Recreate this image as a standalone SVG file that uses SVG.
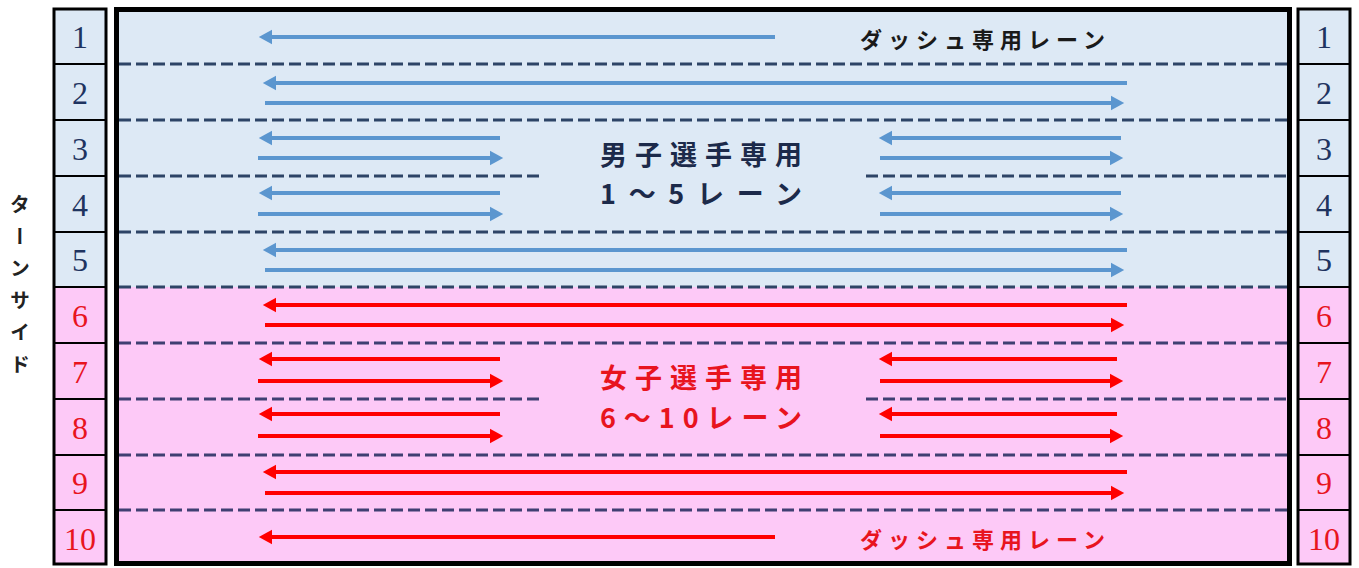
<svg xmlns="http://www.w3.org/2000/svg" width="1359" height="568" viewBox="0 0 1359 568">
<defs>
<style>
.num{font-family:"Liberation Serif",serif;font-size:32px;text-anchor:middle}
.nb{fill:#1f3460}
.nr{fill:#e8141e}
.cell{stroke:#000;stroke-width:2}
.dash{stroke:#2d4466;stroke-width:3;stroke-dasharray:12 5;fill:none}
.dashp{stroke:#3f3f72;stroke-width:3;stroke-dasharray:12 5;fill:none}
.ab{stroke:#5b96cf;stroke-width:4;fill:none}
.ar{stroke:#f00;stroke-width:4;fill:none}
.jp{font-family:"Noto Sans CJK JP","Noto Sans",sans-serif;font-weight:bold}
</style>
<marker id="hb" markerWidth="4" markerHeight="4" refX="1" refY="2" orient="auto-start-reverse" markerUnits="strokeWidth" viewBox="0 0 4 4"><path d="M0,0.2 L3.3,2 L0,3.8 Z" fill="#5b96cf"/></marker>
<marker id="hr" markerWidth="4" markerHeight="4" refX="1" refY="2" orient="auto-start-reverse" markerUnits="strokeWidth" viewBox="0 0 4 4"><path d="M0,0.2 L3.3,2 L0,3.8 Z" fill="#f00"/></marker>
</defs>
<rect width="1359" height="568" fill="#fff"/>

<g id="pool">
<rect x="117" y="10" width="1172" height="277" fill="#dde9f5"/>
<rect x="117" y="287" width="1172" height="277" fill="#fdc9f7"/>
<rect x="116.5" y="9.5" width="1173" height="554" fill="none" stroke="#000" stroke-width="5"/>
</g>

<g id="dividers">
<line class="dash" x1="119" y1="64" x2="1287" y2="64"/>
<line class="dash" x1="119" y1="120" x2="1287" y2="120"/>
<line class="dash" x1="119" y1="176" x2="541" y2="176"/>
<line class="dash" x1="866" y1="176" x2="1287" y2="176"/>
<line class="dash" x1="119" y1="232" x2="1287" y2="232"/>
<line class="dash" x1="119" y1="287" x2="1287" y2="287"/>
<line class="dashp" x1="119" y1="343" x2="1287" y2="343"/>
<line class="dashp" x1="119" y1="399" x2="541" y2="399"/>
<line class="dashp" x1="866" y1="399" x2="1287" y2="399"/>
<line class="dashp" x1="119" y1="455" x2="1287" y2="455"/>
<line class="dashp" x1="119" y1="510" x2="1287" y2="510"/>
</g>

<g id="left-col">
<rect x="54" y="9" width="52" height="278" fill="#dde9f5"/>
<rect x="54" y="287" width="52" height="277" fill="#fdc9f7"/>
<rect x="54" y="9" width="52" height="555" fill="none" stroke="#000" stroke-width="3"/>
<path class="cell" d="M54,64H106M54,120H106M54,176H106M54,232H106M54,287H106M54,343H106M54,399H106M54,455H106M54,510H106"/>
<text class="num nb" x="80" y="48">1</text>
<text class="num nb" x="80" y="104">2</text>
<text class="num nb" x="80" y="160">3</text>
<text class="num nb" x="80" y="216">4</text>
<text class="num nb" x="80" y="271">5</text>
<text class="num nr" x="80" y="327">6</text>
<text class="num nr" x="80" y="383">7</text>
<text class="num nr" x="80" y="439">8</text>
<text class="num nr" x="80" y="494">9</text>
<text class="num nr" x="80" y="550">10</text>
</g>

<g id="right-col">
<rect x="1298" y="9" width="52" height="278" fill="#dde9f5"/>
<rect x="1298" y="287" width="52" height="277" fill="#fdc9f7"/>
<rect x="1298" y="9" width="52" height="555" fill="none" stroke="#000" stroke-width="3"/>
<path class="cell" d="M1298,64H1350M1298,120H1350M1298,176H1350M1298,232H1350M1298,287H1350M1298,343H1350M1298,399H1350M1298,455H1350M1298,510H1350"/>
<text class="num nb" x="1324" y="48">1</text>
<text class="num nb" x="1324" y="104">2</text>
<text class="num nb" x="1324" y="160">3</text>
<text class="num nb" x="1324" y="216">4</text>
<text class="num nb" x="1324" y="271">5</text>
<text class="num nr" x="1324" y="327">6</text>
<text class="num nr" x="1324" y="383">7</text>
<text class="num nr" x="1324" y="439">8</text>
<text class="num nr" x="1324" y="494">9</text>
<text class="num nr" x="1324" y="550">10</text>
</g>

<g id="turn-side">
<text class="jp" x="20" y="194" font-size="20" fill="#222" style="writing-mode:vertical-rl;letter-spacing:12px">ターンサイド</text>
</g>

<g id="connectors">
<line class="ab" x1="775" y1="37" x2="268" y2="37" marker-end="url(#hb)"/>
<line class="ab" x1="1127" y1="83" x2="272" y2="83" marker-end="url(#hb)"/>
<line class="ab" x1="265" y1="103" x2="1115" y2="103" marker-end="url(#hb)"/>
<line class="ab" x1="500" y1="138" x2="268" y2="138" marker-end="url(#hb)"/>
<line class="ab" x1="258" y1="158" x2="494" y2="158" marker-end="url(#hb)"/>
<line class="ab" x1="1121" y1="138" x2="888" y2="138" marker-end="url(#hb)"/>
<line class="ab" x1="880" y1="158" x2="1114" y2="158" marker-end="url(#hb)"/>
<line class="ab" x1="500" y1="193" x2="268" y2="193" marker-end="url(#hb)"/>
<line class="ab" x1="258" y1="214" x2="494" y2="214" marker-end="url(#hb)"/>
<line class="ab" x1="1121" y1="193" x2="888" y2="193" marker-end="url(#hb)"/>
<line class="ab" x1="880" y1="214" x2="1114" y2="214" marker-end="url(#hb)"/>
<line class="ab" x1="1127" y1="250" x2="272" y2="250" marker-end="url(#hb)"/>
<line class="ab" x1="265" y1="270" x2="1115" y2="270" marker-end="url(#hb)"/>

<line class="ar" x1="1127" y1="305" x2="272" y2="305" marker-end="url(#hr)"/>
<line class="ar" x1="265" y1="325" x2="1115" y2="325" marker-end="url(#hr)"/>
<line class="ar" x1="500" y1="359" x2="268" y2="359" marker-end="url(#hr)"/>
<line class="ar" x1="258" y1="381" x2="494" y2="381" marker-end="url(#hr)"/>
<line class="ar" x1="1117" y1="359" x2="888" y2="359" marker-end="url(#hr)"/>
<line class="ar" x1="880" y1="381" x2="1114" y2="381" marker-end="url(#hr)"/>
<line class="ar" x1="500" y1="414" x2="268" y2="414" marker-end="url(#hr)"/>
<line class="ar" x1="258" y1="436" x2="494" y2="436" marker-end="url(#hr)"/>
<line class="ar" x1="1117" y1="414" x2="888" y2="414" marker-end="url(#hr)"/>
<line class="ar" x1="880" y1="436" x2="1114" y2="436" marker-end="url(#hr)"/>
<line class="ar" x1="1127" y1="472" x2="272" y2="472" marker-end="url(#hr)"/>
<line class="ar" x1="265" y1="493" x2="1115" y2="493" marker-end="url(#hr)"/>
<line class="ar" x1="775" y1="537" x2="268" y2="537" marker-end="url(#hr)"/>
</g>

<g id="labels">
<text class="jp" x="860" y="48" font-size="22" fill="#1a1a1a" textLength="245" lengthAdjust="spacing">ダッシュ専用レーン</text>
<text class="jp" x="860" y="548" font-size="22" fill="#e8141e" textLength="245" lengthAdjust="spacing">ダッシュ専用レーン</text>
<text class="jp" x="600" y="165" font-size="27" fill="#1c2a4a" textLength="202" lengthAdjust="spacing">男子選手専用</text>
<text class="jp" x="600" y="204" font-size="27" fill="#1c2a4a" textLength="202" lengthAdjust="spacing">1～5レーン</text>
<text class="jp" x="600" y="388" font-size="27" fill="#e8141e" textLength="202" lengthAdjust="spacing">女子選手専用</text>
<text class="jp" x="600" y="428" font-size="27" fill="#e8141e" textLength="202" lengthAdjust="spacing">6～10レーン</text>
</g>
</svg>
